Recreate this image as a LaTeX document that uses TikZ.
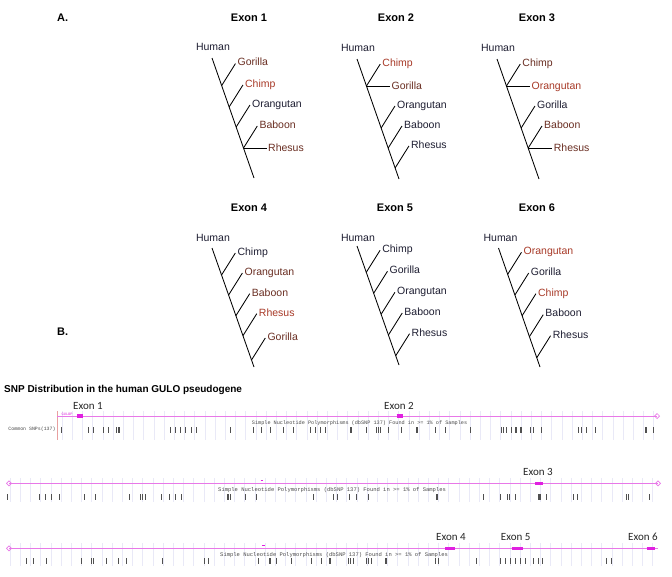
\documentclass[tikz,border=0pt]{standalone}
\usepackage{fontspec}
\setmainfont{Liberation Sans}
\newfontfamily\carlito{Carlito}
\newfontfamily\monof{Liberation Mono}
\definecolor{cdark}{HTML}{1E1E32}
\definecolor{cbrown}{HTML}{6A2E22}
\definecolor{cred}{HTML}{A83A28}
\definecolor{cpink}{HTML}{E878E8}
\definecolor{cmag}{HTML}{E020E0}
\definecolor{cgrid}{HTML}{E9E9F7}
\definecolor{ctick}{HTML}{505050}
\definecolor{csep}{HTML}{E8A0A0}
\tikzset{
  tl/.style={line width=0.85pt, black},
  lab/.style={anchor=base west, inner sep=0pt, font=\fontsize{10.5}{12}\selectfont},
  hum/.style={anchor=base, inner sep=0pt, font=\fontsize{10.5}{12}\selectfont, text=cdark},
  hdr/.style={anchor=base, inner sep=0pt, font=\bfseries\fontsize{11}{13}\selectfont},
  exlab/.style={anchor=base west, inner sep=0pt, font=\carlito\fontsize{11}{13}\selectfont, text=black!85},
  snpline/.style={draw=cpink, line width=1pt},
  exonblk/.style={draw=cmag, line width=3.5pt},
  snptick/.style={draw=ctick, line width=0.5pt},
  gridln/.style={draw=cgrid, line width=0.4pt},
  snptxt/.style={anchor=base west, inner sep=0pt, text=black!70},
  endmark/.style={draw=cpink, line width=0.7pt}
}
\newcommand\brn[4]{%
  \draw[tl] (#1j#2) -- ++(13.8,-22) coordinate (#1e#2);
  \node[lab,text=#3] (#1n#2) at ([shift={(2,2.3)}]#1e#2) {#4};}
\newcommand\hbrn[5]{%
  \draw[tl] (#1j#2) -- ++(#3,0) coordinate (#1h#2);
  \node[lab,text=#4] (#1m#2) at ([shift={(1.5,3.8)}]#1h#2) {#5};}
\begin{document}
\begin{tikzpicture}[x=1pt,y=-1pt]
\useasboundingbox (0,0) rectangle (672,576);
\fill[white] (0,0) rectangle (672,576);

% headers
\node[anchor=base west, inner sep=0pt, font=\bfseries\fontsize{11}{13}\selectfont] (lblA) at (57,21) {A.};
\node[anchor=base west, inner sep=0pt, font=\bfseries\fontsize{11}{13}\selectfont] (lblB) at (57,335) {B.};
\node[hdr] (h1) at (249,21) {Exon 1};
\node[hdr] (h2) at (396,21) {Exon 2};
\node[hdr] (h3) at (537,21) {Exon 3};
\node[hdr] (h4) at (249,211) {Exon 4};
\node[hdr] (h5) at (395,211) {Exon 5};
\node[hdr] (h6) at (537,211) {Exon 6};

% ---------- Tree 1
\coordinate (a1top) at (212,58);
\coordinate (a1bot) at (254,178);
\draw[tl] (a1top) -- (a1bot)
  coordinate[pos=0.23] (a1j1) coordinate[pos=0.408] (a1j2)
  coordinate[pos=0.575] (a1j3) coordinate[pos=0.75] (a1j4);
\node[hum] (a1hum) at ([shift={(1,-7.5)}]a1top) {Human};
\brn{a1}{1}{cbrown}{Gorilla}
\brn{a1}{2}{cred}{Chimp}
\brn{a1}{3}{cdark}{Orangutan}
\brn{a1}{4}{cbrown}{Baboon}
\hbrn{a1}{4}{23}{cbrown}{Rhesus}

% ---------- Tree 2
\coordinate (a2top) at (357,59);
\coordinate (a2bot) at (399,179);
\draw[tl] (a2top) -- (a2bot)
  coordinate[pos=0.225] (a2j1) coordinate[pos=0.575] (a2j2)
  coordinate[pos=0.742] (a2j3) coordinate[pos=0.908] (a2j4);
\node[hum] (a2hum) at ([shift={(1,-7.5)}]a2top) {Human};
\brn{a2}{1}{cred}{Chimp}
\hbrn{a2}{1}{23.5}{cbrown}{Gorilla}
\brn{a2}{2}{cdark}{Orangutan}
\brn{a2}{3}{cdark}{Baboon}
\brn{a2}{4}{cdark}{Rhesus}

% ---------- Tree 3
\coordinate (a3top) at (497,59);
\coordinate (a3bot) at (539,179);
\draw[tl] (a3top) -- (a3bot)
  coordinate[pos=0.225] (a3j1) coordinate[pos=0.575] (a3j2)
  coordinate[pos=0.742] (a3j3);
\node[hum] (a3hum) at ([shift={(1,-7.5)}]a3top) {Human};
\brn{a3}{1}{cbrown}{Chimp}
\hbrn{a3}{1}{23.5}{cred}{Orangutan}
\brn{a3}{2}{cdark}{Gorilla}
\brn{a3}{3}{cbrown}{Baboon}
\hbrn{a3}{3}{24}{cbrown}{Rhesus}

% ---------- Tree 4
\coordinate (b1top) at (212,248);
\coordinate (b1bot) at (254,367);
\draw[tl] (b1top) -- (b1bot)
  coordinate[pos=0.227] (b1j1) coordinate[pos=0.395] (b1j2)
  coordinate[pos=0.569] (b1j3) coordinate[pos=0.737] (b1j4)
  coordinate[pos=0.941] (b1j5);
\node[hum] (b1hum) at ([shift={(1,-7)}]b1top) {Human};
\brn{b1}{1}{cdark}{Chimp}
\brn{b1}{2}{cbrown}{Orangutan}
\brn{b1}{3}{cbrown}{Baboon}
\brn{b1}{4}{cred}{Rhesus}
\brn{b1}{5}{cbrown}{Gorilla}

% ---------- Tree 5
\coordinate (b2top) at (357,246);
\coordinate (b2bot) at (399,365);
\draw[tl] (b2top) -- (b2bot)
  coordinate[pos=0.221] (b2j1) coordinate[pos=0.397] (b2j2)
  coordinate[pos=0.574] (b2j3) coordinate[pos=0.748] (b2j4)
  coordinate[pos=0.922] (b2j5);
\node[hum] (b2hum) at ([shift={(1,-5)}]b2top) {Human};
\brn{b2}{1}{cdark}{Chimp}
\brn{b2}{2}{cdark}{Gorilla}
\brn{b2}{3}{cdark}{Orangutan}
\brn{b2}{4}{cdark}{Baboon}
\brn{b2}{5}{cdark}{Rhesus}

% ---------- Tree 6
\coordinate (b3top) at (498.5,248);
\coordinate (b3bot) at (540,367);
\draw[tl] (b3top) -- (b3bot)
  coordinate[pos=0.221] (b3j1) coordinate[pos=0.395] (b3j2)
  coordinate[pos=0.569] (b3j3) coordinate[pos=0.745] (b3j4)
  coordinate[pos=0.922] (b3j5);
\node[hum] (b3hum) at ([shift={(2,-7)}]b3top) {Human};
\brn{b3}{1}{cred}{Orangutan}
\brn{b3}{2}{cdark}{Gorilla}
\brn{b3}{3}{cred}{Chimp}
\brn{b3}{4}{cdark}{Baboon}
\brn{b3}{5}{cdark}{Rhesus}

% ---------- SNP section
\node[anchor=base west, inner sep=0pt, font=\bfseries\fontsize{10}{12}\selectfont] (title) at (4,392.5) {SNP Distribution in the human GULO pseudogene};

% grids
\foreach \x in {62,72.2,...,660} \draw[gridln] (\x,411) -- (\x,440);
\foreach \x in {10,20.2,...,660} \draw[gridln] (\x,478) -- (\x,502);
\foreach \x in {10,20.2,...,660} \draw[gridln] (\x,543) -- (\x,566);

% track 1
\draw[csep, line width=0.7pt] (57.3,411) -- (57.3,440);
\draw[snpline] (57.3,416) -- (657,416);
\draw[exonblk] (77.3,416) -- (83.3,416);
\draw[exonblk] (396.7,416) -- (402.7,416);
\draw[endmark] (654.5,416) -- (657,413.5) -- (659.5,416) -- (657,418.5) -- cycle;
\node[anchor=base west, inner sep=0pt, text=cmag, font=\monof\fontsize{3.6}{4}\selectfont] (gulop) at (61.5,415.5) {GULOP};
\node[snptxt, font=\monof\fontsize{4.9}{6}\selectfont] (common) at (8.3,430) {Common SNPs(137)};
\node[snptxt, font=\monof\fontsize{5.2}{6}\selectfont] (snp1) at (251.7,424.5) {Simple Nucleotide Polymorphisms (dbSNP 137) Found in >= 1\% of Samples};
\node[exlab] (e1) at (73,409) {Exon 1};
\node[exlab] (e2) at (384,409) {Exon 2};
\foreach \x in {61.7,88.3,93.3,103.3,108.3,116.7,118,119.3,170,175,180,185,191.7,196.7,230,253.3,261.7,270,283.3,293.3,310,315,320,325,350.7,351.7,366.7,376.7,378.3,380.7,388.3,401.7,416,417.3,435,445,470,501.7,503.3,506.7,511.7,515,516.7,520,521.7,530,533.3,541.7,578.3,581.7,586.7,595,645,646,653.3}
  \draw[snptick] (\x,427) -- (\x,433);

% track 2
\draw[snpline] (9,483.3) -- (658,483.3);
\draw[endmark] (6.5,483.3) -- (9,480.8) -- (11.5,483.3) -- (9,485.8) -- cycle;
\draw[endmark] (655.5,483.3) -- (658,480.8) -- (660.5,483.3) -- (658,485.8) -- cycle;
\draw[cmag, line width=0.6pt] (260.5,480.5) -- (263,480.5);
\draw[exonblk] (535,483.3) -- (543.3,483.3);
\node[exlab] (e3) at (523,475.5) {Exon 3};
\node[snptxt, font=\monof\fontsize{5.5}{6}\selectfont] (snp2) at (218,491.2) {Simple Nucleotide Polymorphisms (dbSNP 137) Found in >= 1\% of Samples};
\foreach \x in {7.3,39.3,45,51.7,59.3,84,95,129.3,140,142.7,145,161.7,169.3,175,181.7,227.3,228.7,230,245,256,313.3,333.3,337.3,349.3,356,368.3,436,437.3,483.3,500,507.3,509,515,538.3,539.3,540.7,546,573.3,577.3,626.7,628.3,649.3}
  \draw[snptick] (\x,494) -- (\x,500);

% track 3
\draw[snpline] (9,548.3) -- (658,548.3);
\draw[endmark] (6.5,548.3) -- (9,545.8) -- (11.5,548.3) -- (9,550.8) -- cycle;
\draw[cmag, line width=0.6pt] (262,545.5) -- (264.5,545.5);
\draw[exonblk] (445,548.3) -- (455,548.3);
\draw[exonblk] (511.7,548.3) -- (522.7,548.3);
\draw[exonblk] (646.7,548.3) -- (655,548.3);
\node[exlab] (e4) at (436,540.5) {Exon 4};
\node[exlab] (e5) at (500.7,540.5) {Exon 5};
\node[exlab] (e6) at (628,540.5) {Exon 6};
\node[snptxt, font=\monof\fontsize{5.5}{6}\selectfont] (snp3) at (220,556.5) {Simple Nucleotide Polymorphisms (dbSNP 137) Found in >= 1\% of Samples};
\foreach \x in {26.7,33.3,46.7,81.7,91.7,93.3,106.7,118.3,126.7,162.7,204,208.3,258.3,269.3,270.7,276.7,291.7,311.7,321.7,329.3,330.7,348.3,350,353.3,366,368.3,371.7,385,386,435,438.3,476,500,505,510,515,520,525,533.3,538.3,542.7,606,611.7}
  \draw[snptick] (\x,558) -- (\x,564);
\end{tikzpicture}
\end{document}
